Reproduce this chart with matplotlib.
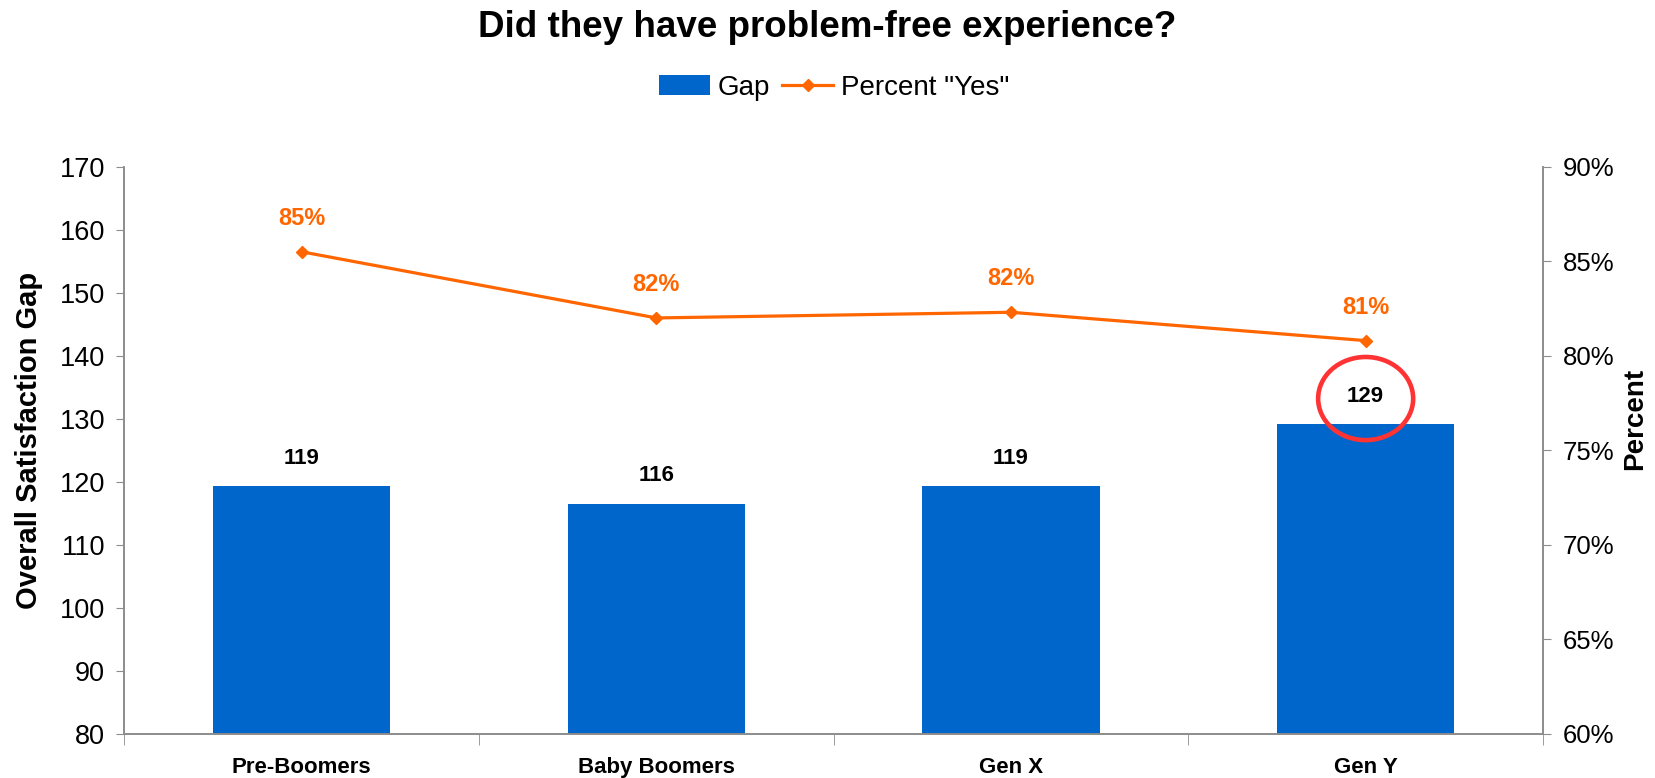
import matplotlib
matplotlib.use("Agg")
import matplotlib.pyplot as plt
from matplotlib.patches import Ellipse
from matplotlib.lines import Line2D
from matplotlib.patches import Patch
import numpy as np

plt.rcParams['font.family'] = ['Liberation Sans', 'DejaVu Sans']

# data
groups = ['Pre-Boomers', 'Baby Boomers', 'Gen X', 'Gen Y']
gap = [119.3, 116.5, 119.3, 129.1]
gap_labels = ['119', '116', '119', '129']
pct_yes = [85.5, 82.0, 82.3, 80.8]
pct_labels = ['85%', '82%', '82%', '81%']

blue = '#0066CC'
orange = '#FF6600'
grey = '#8C8C8C'

fig = plt.figure(figsize=(16.55, 7.78), dpi=100)
ax = fig.add_axes([0.0752, 0.0571, 0.8571, 0.7285])
ax2 = ax.twinx()

x = np.arange(len(groups))
ax.bar(x, gap, width=0.5, color=blue, zorder=2)
for xi, v, lab in zip(x, gap, gap_labels):
    ax.annotate(lab, (xi, v), xytext=(0, 20), textcoords='offset points',
                ha='center', va='center', fontsize=16, fontweight='bold', color='black')

# circle around the Gen Y value
ax.add_patch(Ellipse((3, 133.2), 0.268, 13.2, fill=False, edgecolor='#FF3333',
                     linewidth=3.3, zorder=5, clip_on=False))

ax2.plot(x, pct_yes, color=orange, linewidth=2.3, marker='D', markersize=6.5, zorder=3)
for xi, v, lab in zip(x, pct_yes, pct_labels):
    ax2.annotate(lab, (xi, v), xytext=(0, 24), textcoords='offset points',
                 ha='center', va='center', fontsize=17, fontweight='bold', color=orange)

ax.set_xlim(-0.5, 3.5)
ax.set_ylim(80, 170)
ax.set_yticks(np.arange(80, 171, 10))
ax2.set_ylim(60, 90)
ax2.set_yticks(np.arange(60, 91, 5))
ax2.set_yticklabels([f'{t}%' for t in range(60, 91, 5)])

ax.set_xticks(x)
ax.set_xticklabels(groups, fontsize=16, fontweight='bold')
ax.set_xticks(np.arange(-0.5, 4, 1), minor=True)
ax.tick_params(axis='x', which='major', length=0, pad=17)
ax.tick_params(axis='x', which='minor', length=8, color=grey, direction='out')
ax.tick_params(axis='y', labelsize=19.5, length=6, color=grey, pad=8)
ax2.tick_params(axis='y', labelsize=18.5, length=6, color=grey, pad=8)

for a in (ax, ax2):
    a.spines['top'].set_visible(False)
    for s in ('left', 'right', 'bottom'):
        a.spines[s].set_color(grey)
        a.spines[s].set_linewidth(1.2)

ax.set_ylabel('Overall Satisfaction Gap', fontsize=21, fontweight='bold', labelpad=12)
ax2.set_ylabel('Percent', fontsize=20, fontweight='bold', labelpad=6)
ax.yaxis.label.set_y(0.518)
ax2.yaxis.label.set_y(0.555)

fig.suptitle('Did they have problem-free experience?', fontsize=26.5, fontweight='bold',
             x=0.5, y=0.965, va='center')

handles = [Patch(facecolor=blue, edgecolor='none'),
           Line2D([0], [0], color=orange, linewidth=2.3, marker='D', markersize=6.5)]
fig.legend(handles, ['Gap', 'Percent "Yes"'], loc='center', bbox_to_anchor=(0.504, 0.887),
           ncol=2, frameon=False, fontsize=20, handlelength=1.85, handletextpad=0.27,
           columnspacing=0.42)

fig.savefig('out.png', dpi=100)
